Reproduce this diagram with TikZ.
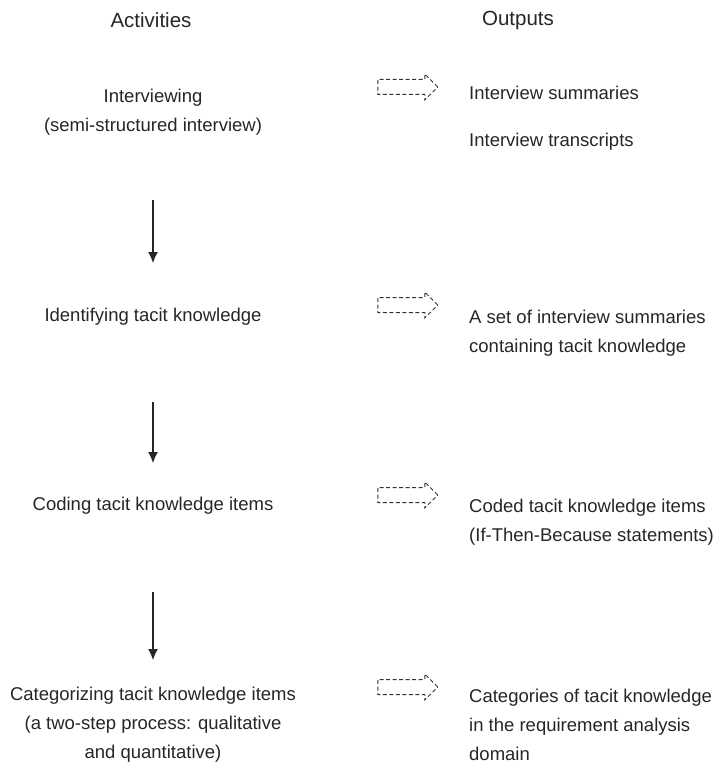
\documentclass[tikz,border=0pt]{standalone}
\usepackage{fontspec}
\setmainfont{Liberation Sans}
\usetikzlibrary{positioning,shapes.arrows,arrows.meta}

\begin{document}
\begin{tikzpicture}[x=1pt,y=-1pt]
        \tikzstyle{every node}=[inner sep=0pt, text=black!85, font=\fontsize{18.5}{29.5}\selectfont]
        \tikzstyle{head}=[font=\fontsize{20.5}{24}\selectfont]
        \tikzstyle{activity}=[align=center]
        \tikzstyle{outtext}=[align=left, anchor=west]
        \tikzstyle{yields}=[draw=black!80, dash pattern=on 4pt off 2.5pt, line width=1pt,
            single arrow, single arrow head extend=5.5pt, minimum height=60pt,
            inner ysep=7pt, inner xsep=0pt]
        \tikzstyle{flow}=[-{Latex[length=11pt,width=10pt]}, line width=1.2pt, black!85]

        \useasboundingbox (0,0) rectangle (716,765);

        % column heads
        \node[head] (acthead) at (151,20) {Activities};
        \node[head] (outhead) at (518,20) {Outputs};

        % activities
        \node[activity] (interview) at (153,112) {Interviewing\\(semi-structured interview)};
        \node[activity] (identify)  at (153,317) {Identifying tacit knowledge};
        \node[activity] (coding)    at (153,506) {Coding tacit knowledge items};
        \node[activity, font=\fontsize{18.5}{29}\selectfont] (categorize) at (153,725) {Categorizing tacit knowledge items\\(a two-step process: qualitative\\and quantitative)};

        % outputs
        \node[outtext] (summaries)   at (469,93)  {Interview summaries};
        \node[outtext] (transcripts) at (469,142) {Interview transcripts};
        \node[outtext] (tksummaries) at (469,333) {A set of interview summaries\\containing tacit knowledge};
        \node[outtext] (tkitems)     at (469,522) {Coded tacit knowledge items\\(If-Then-Because statements)};
        \node[outtext, font=\fontsize{18.5}{29}\selectfont] (tkcategories) at (469,725) {Categories of tacit knowledge\\in the requirement analysis\\domain};

        % activity -> output
        \node[yields] (y1) at (404,87)  {};
        \node[yields] (y2) at (404,305) {};
        \node[yields] (y3) at (404,495) {};
        \node[yields] (y4) at (404,687) {};

        % activity -> activity
        \coordinate (s1) at (153,200);
        \coordinate (e1) at (153,263);
        \coordinate (s2) at (153,402);
        \coordinate (e2) at (153,463);
        \coordinate (s3) at (153,592);
        \coordinate (e3) at (153,660);
        \draw[flow] (s1) -- (e1);
        \draw[flow] (s2) -- (e2);
        \draw[flow] (s3) -- (e3);

    \end{tikzpicture}
\end{document}
